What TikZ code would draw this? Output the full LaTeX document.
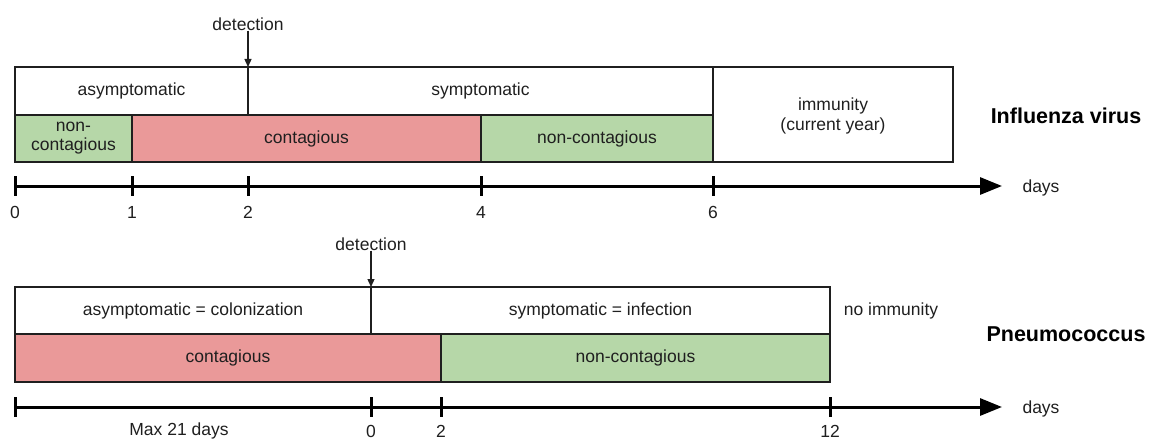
\documentclass[tikz,border=0pt]{standalone}
\usepackage{fontspec}
\setmainfont{Liberation Sans}
\usetikzlibrary{arrows.meta}
\definecolor{gfill}{HTML}{B6D7A8}
\definecolor{rfill}{HTML}{EA9999}
\definecolor{ink}{HTML}{1F1F1F}
\tikzset{
  cell/.style={draw=ink, line width=1.3pt, inner sep=0pt, outer sep=0pt, anchor=north west, align=center, text=ink, font=\fontsize{17.5}{21}\selectfont},
  txt/.style={inner sep=0pt, text=ink, font=\fontsize{17.5}{21}\selectfont, align=center},
  title/.style={inner sep=0pt, text=black, font=\fontsize{21.5}{25}\selectfont\bfseries},
  axis/.style={line width=3pt, draw=black, -{Triangle[length=22pt,width=17pt]}},
  tickmark/.style={line width=3pt, draw=black},
  detarrow/.style={line width=1.3pt, draw=ink, -{Triangle[length=8pt,width=7pt]}}
}
\begin{document}
\begin{tikzpicture}[x=1pt,y=-1pt]
\useasboundingbox (0,0) rectangle (1150,441);
% ---------- Influenza ----------
\node[cell, minimum width=233pt, minimum height=48pt] (asym1) at (15,67) {asymptomatic};
\node[cell, minimum width=465pt, minimum height=48pt] (sym1) at (248,67) {symptomatic};
\node[cell, fill=gfill, minimum width=117pt, minimum height=47pt] (nc1) at (15,115) {non-\\[-2pt]contagious};
\node[cell, fill=rfill, minimum width=349pt, minimum height=47pt] (c1) at (132,115) {contagious};
\node[cell, fill=gfill, minimum width=232pt, minimum height=47pt] (nc1b) at (481,115) {non-contagious};
\node[cell, minimum width=240pt, minimum height=95pt] (imm1) at (713,67) {};
\node[txt] (immt) at (833,116) {immunity\\[-1pt](current year)};
\node[txt] (det1) at (248,24) {detection};
\draw[detarrow] (det1.south) -- (asym1.north east);
\node[title] (flu) at (1066,116) {Influenza virus};
% axis
\coordinate (a1s) at (15,186);
\coordinate (a1e) at (1002,186);
\draw[axis] (a1s) -- (a1e);
\foreach \x/\l in {15/0,132/1,248/2,481/4,713/6}{
  \draw[tickmark] (\x,176) -- (\x,196);
  \node[txt] (t1-\l) at (\x,212) {\l};
}
\node[txt] (days1) at (1041,188) {days};
% ---------- Pneumococcus ----------
\node[cell, minimum width=356pt, minimum height=47pt] (asym2) at (15,287) {asymptomatic = colonization};
\node[cell, minimum width=459pt, minimum height=47pt] (sym2) at (371,287) {symptomatic = infection};
\node[cell, fill=rfill, minimum width=426pt, minimum height=48pt] (c2) at (15,334) {contagious};
\node[cell, fill=gfill, minimum width=389pt, minimum height=48pt] (nc2) at (441,334) {non-contagious};
\node[txt] (det2) at (371,244) {detection};
\draw[detarrow] (det2.south) -- (asym2.north east);
\node[txt] (noimm) at (891,311) {no immunity};
\node[title] (pneu) at (1066,334) {Pneumococcus};
\coordinate (a2s) at (15,407);
\coordinate (a2e) at (1002,407);
\draw[axis] (a2s) -- (a2e);
\foreach \x in {15,371,441,830}{
  \draw[tickmark] (\x,397) -- (\x,417);
}
\node[txt] (max21) at (179,431) {Max 21 days};
\node[txt] (t2-0) at (371,431) {0};
\node[txt] (t2-2) at (441,431) {2};
\node[txt] (t2-12) at (830,431) {12};
\node[txt] (days2) at (1041,409) {days};
\end{tikzpicture}
\end{document}
